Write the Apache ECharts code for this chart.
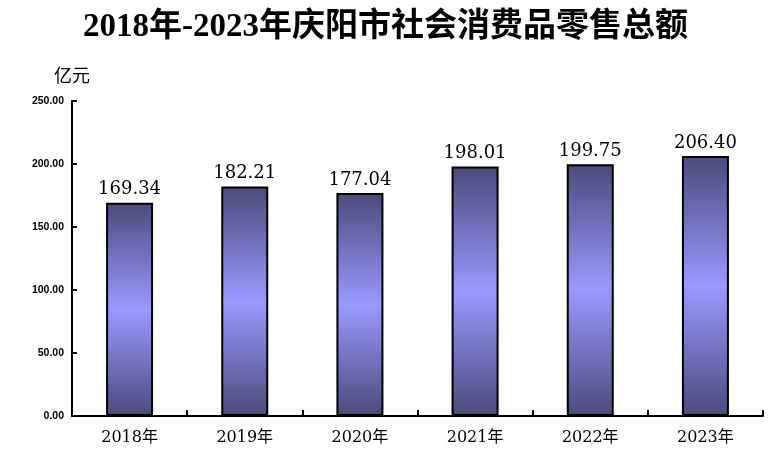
<!DOCTYPE html>
<html lang="zh-CN">
  <head>
    <meta charset="UTF-8" />
    <title>2018年-2023年庆阳市社会消费品零售总额</title>
    <script src="https://cdn.jsdelivr.net/npm/echarts@6/dist/echarts.min.js"></script>
    <style>
      html, body { margin: 0; padding: 0; background: #fff; }
      #main { width: 771px; height: 463px; }
    </style>
  </head>
  <body>
    <div id="main"></div>
    <script>
      // 数据
      var years = ["2018年", "2019年", "2020年", "2021年", "2022年", "2023年"];
      var sales = [169.34, 182.21, 177.04, 198.01, 199.75, 206.4];

      var titleFont = "'Liberation Serif', 'Noto Sans CJK SC', serif";
      var serif = "'DejaVu Serif', 'Noto Sans CJK SC', serif";

      var myChart = echarts.init(document.getElementById("main"));

      var barGradient = new echarts.graphic.LinearGradient(0, 0, 0, 1, [
        { offset: 0, color: "#4b4b7c" },
        { offset: 0.5, color: "#9999ff" },
        { offset: 1, color: "#4b4b7c" },
      ]);

      var option = {
        animation: false,
        title: {
          text: "2018年-2023年庆阳市社会消费品零售总额",
          left: "center",
          top: 6,
          textStyle: {
            fontFamily: titleFont,
            fontSize: 33,
            fontWeight: "bold",
            color: "#000",
          },
        },
        grid: { left: 72, right: 8, top: 101, bottom: 47 },
        xAxis: {
          type: "category",
          data: years,
          axisLine: { lineStyle: { color: "#000", width: 2 } },
          axisTick: {
            show: true,
            inside: true,
            length: 6,
            alignWithLabel: false,
            lineStyle: { color: "#000", width: 2 },
          },
          axisLabel: {
            margin: 14,
            fontFamily: serif,
            fontSize: 16,
            color: "#000",
          },
        },
        yAxis: {
          type: "value",
          min: 0,
          max: 250,
          interval: 50,
          name: "亿元",
          nameLocation: "end",
          nameGap: 17,
          nameTextStyle: {
            fontFamily: "'Noto Sans CJK SC', sans-serif",
            fontSize: 18,
            color: "#000",
            align: "center",
          },
          axisLine: { show: true, lineStyle: { color: "#000", width: 2 } },
          axisTick: {
            show: true,
            inside: true,
            length: 5,
            lineStyle: { color: "#000", width: 2 },
          },
          splitLine: { show: false },
          axisLabel: {
            margin: 8,
            fontFamily: "'Liberation Sans', Arial, sans-serif",
            fontSize: 10.5,
            fontWeight: "bold",
            color: "#000",
            formatter: function (v) {
              return v.toFixed(2);
            },
          },
        },
        series: [
          {
            type: "bar",
            data: sales,
            barWidth: 47,
            itemStyle: {
              color: barGradient,
              borderColor: "#000",
              borderWidth: 2,
            },
            label: {
              show: true,
              position: "top",
              distance: 4,
              fontFamily: serif,
              fontSize: 18,
              color: "#000",
              formatter: function (p) {
                return p.value.toFixed(2);
              },
            },
          },
        ],
      };

      myChart.setOption(option);
    </script>
  </body>
</html>
